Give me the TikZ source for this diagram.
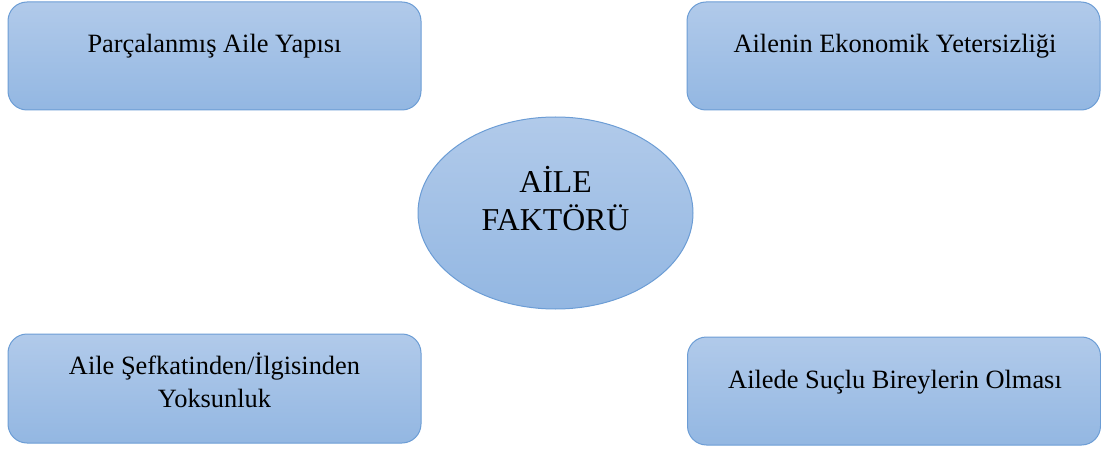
\documentclass[tikz,border=0pt]{standalone}
\usepackage{fontspec}
\setmainfont{Liberation Serif}
\usetikzlibrary{shapes.geometric}
\definecolor{topc}{RGB}{177,202,234}
\definecolor{botc}{RGB}{147,183,226}
\definecolor{edgec}{RGB}{108,157,213}
\begin{document}
\begin{tikzpicture}[x=1pt,y=1pt,
  box/.style={draw=edgec, line width=1pt, rounded corners=19pt, top color=topc, bottom color=botc,
    minimum width=413pt, minimum height=108pt, inner sep=0pt},
  oval/.style={ellipse, draw=edgec, line width=1pt, top color=topc, bottom color=botc,
    minimum width=275pt, minimum height=192pt, inner sep=0pt},
  boxtext/.style={font=\fontsize{26.4}{33}\selectfont, align=center, inner sep=0pt, anchor=base},
  ovaltext/.style={font=\fontsize{31.8}{38}\selectfont, align=center, inner sep=0pt, anchor=base}]
\useasboundingbox (0,0) rectangle (1101,448);
\node[box] (b1) at (214.5,392) {};
\node[box] (b2) at (893.5,392) {};
\node[box, minimum height=109pt] (b3) at (214.5,59.5) {};
\node[box] (b4) at (894,57) {};
\node[oval] (e) at (555.5,235) {};
\node[boxtext] (t1) at (214.5,395) {Parçalanmış Aile Yapısı};
\node[boxtext] (t2) at (895,395) {Ailenin Ekonomik Yetersizliği};
\node[boxtext] (t3) at (214.5,41) {Aile Şefkatinden/İlgisinden\\Yoksunluk};
\node[boxtext] (t4) at (895,60) {Ailede Suçlu Bireylerin Olması};
\node[ovaltext] (te) at (555.5,218) {AİLE\\FAKTÖRÜ};
\end{tikzpicture}
\end{document}
